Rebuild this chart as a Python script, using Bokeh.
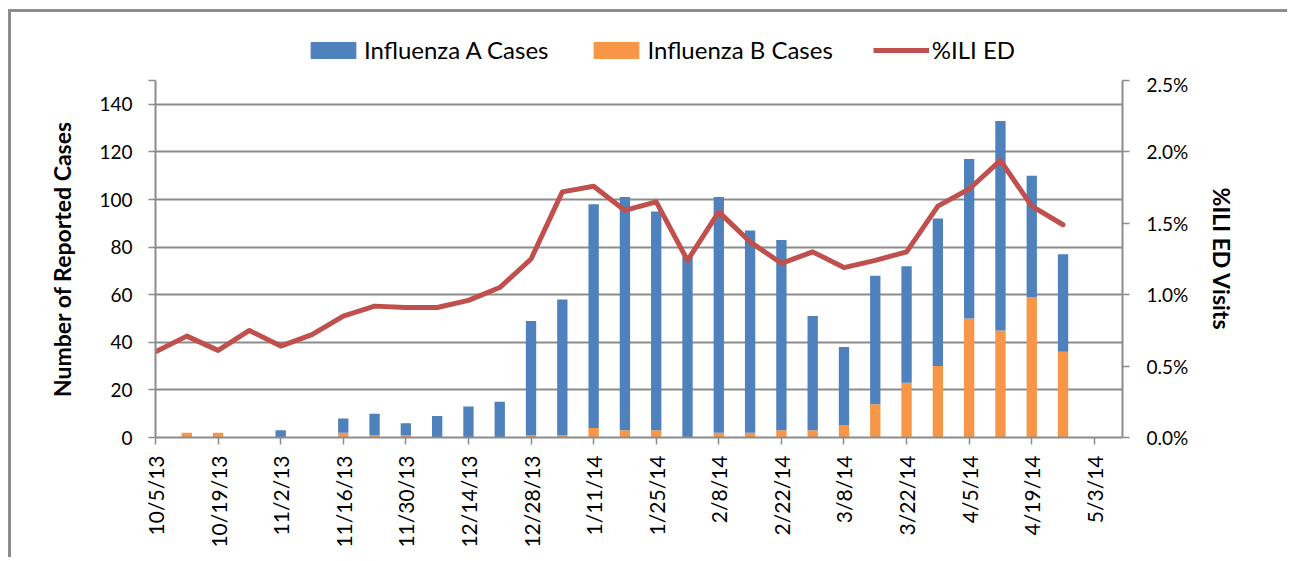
from bokeh.plotting import figure
from bokeh.layouts import column
from bokeh.models import (Range1d, LinearAxis, FixedTicker, PrintfTickFormatter,
                          Legend, LegendItem, ColumnDataSource)
from bokeh.embed import file_html
from bokeh.resources import INLINE
import math

# ---- data ----
week_labels = ["10/5/13", "10/12/13", "10/19/13", "10/26/13", "11/2/13", "11/9/13",
               "11/16/13", "11/23/13", "11/30/13", "12/7/13", "12/14/13", "12/21/13",
               "12/28/13", "1/4/14", "1/11/14", "1/18/14", "1/25/14", "2/1/14",
               "2/8/14", "2/15/14", "2/22/14", "3/1/14", "3/8/14", "3/15/14",
               "3/22/14", "3/29/14", "4/5/14", "4/12/14", "4/19/14", "4/26/14"]
flu_a = [0, 0, 0, 0, 3, 0, 6, 9, 5, 9, 13, 15, 48, 57, 94, 98, 92, 76,
         99, 85, 80, 48, 33, 54, 49, 62, 67, 88, 51, 41]
flu_b = [0, 2, 2, 0, 0, 0, 2, 1, 1, 0, 0, 0, 1, 1, 4, 3, 3, 0,
         2, 2, 3, 3, 5, 14, 23, 30, 50, 45, 59, 36]
ili_pct = [0.60, 0.71, 0.61, 0.75, 0.64, 0.72, 0.85, 0.92, 0.91, 0.91, 0.96, 1.05,
           1.25, 1.72, 1.76, 1.59, 1.65, 1.24, 1.58, 1.37, 1.22, 1.30, 1.19, 1.24,
           1.30, 1.62, 1.74, 1.94, 1.62, 1.49]
tick_labels = ["10/5/13", "10/19/13", "11/2/13", "11/16/13", "11/30/13", "12/14/13",
               "12/28/13", "1/11/14", "1/25/14", "2/8/14", "2/22/14", "3/8/14",
               "3/22/14", "4/5/14", "4/19/14", "5/3/14"]
series_names = ["Influenza A Cases", "Influenza B Cases", "%ILI ED"]
left_ticks = [0, 20, 40, 60, 80, 100, 120, 140]
right_ticks = [0.0, 0.5, 1.0, 1.5, 2.0, 2.5]

BLUE = "#4F81BD"
ORANGE = "#F79646"
RED = "#C0504D"
GRID = "#8C8C8C"
FONT = "Lato"

idx = list(range(len(week_labels)))
src = ColumnDataSource(dict(
    x=idx, a=flu_a, b=flu_b,
    a_top=[a + b for a, b in zip(flu_a, flu_b)],
    ili=ili_pct))

W = 1276

# ---------------- main chart ----------------
p = figure(width=W, height=485, output_backend="svg", toolbar_location=None,
           x_range=Range1d(0, 30.9), y_range=Range1d(0, 150),
           min_border_left=144, min_border_right=W - 1111, min_border_top=8,
           min_border_bottom=120)
p.outline_line_color = None
p.background_fill_color = "white"
p.border_fill_color = "white"

p.extra_y_ranges = {"pct": Range1d(0, 2.5)}

rb = p.vbar(x="x", bottom=0, top="b", width=0.33, source=src,
            fill_color=ORANGE, line_color=None)
ra = p.vbar(x="x", bottom="b", top="a_top", width=0.33, source=src,
            fill_color=BLUE, line_color=None)
rl = p.line(x="x", y="ili", source=src, y_range_name="pct",
            line_color=RED, line_width=5, line_join="round", line_cap="round")

# x axis
xt = [2 * i for i in range(len(tick_labels))]
p.xaxis.ticker = FixedTicker(ticks=xt)
p.xaxis.major_label_overrides = {t: lab for t, lab in zip(xt, tick_labels)}
p.xaxis.major_label_orientation = math.pi / 2
p.xaxis.minor_tick_line_color = None
p.xaxis.major_tick_in = 0
p.xaxis.major_tick_out = 7
p.xaxis.major_label_standoff = 11
p.xaxis.axis_line_color = GRID
p.xaxis.axis_line_width = 2
p.xaxis.major_tick_line_color = GRID
p.xaxis.major_tick_line_width = 1.5
p.xaxis.major_label_text_font = FONT
p.xaxis.major_label_text_font_size = "21px"
p.xaxis.major_label_text_color = "black"

# left axis
p.yaxis.ticker = FixedTicker(ticks=left_ticks + [150])
p.yaxis.major_label_overrides = {150: ""}
p.yaxis.minor_tick_line_color = None
p.yaxis.major_tick_in = 0
p.yaxis.major_tick_out = 7
p.yaxis.major_label_standoff = 16
p.yaxis.axis_line_color = GRID
p.yaxis.axis_line_width = 2
p.yaxis.major_tick_line_color = GRID
p.yaxis.major_tick_line_width = 1.5
p.yaxis.major_label_text_font = FONT
p.yaxis.major_label_text_font_size = "19px"
p.yaxis.major_label_text_color = "black"
p.yaxis.axis_label = "Number of Reported Cases"
p.yaxis.axis_label_text_font = FONT
p.yaxis.axis_label_text_font_style = "bold"
p.yaxis.axis_label_text_font_size = "23px"
p.yaxis.axis_label_text_color = "black"
p.yaxis.axis_label_standoff = 20

# right axis
ra_axis = LinearAxis(y_range_name="pct", ticker=FixedTicker(ticks=right_ticks),
                     formatter=PrintfTickFormatter(format="%.1f%%"))
ra_axis.minor_tick_line_color = None
ra_axis.major_tick_in = 0
ra_axis.major_tick_out = 7
ra_axis.major_label_standoff = 17
ra_axis.axis_line_color = GRID
ra_axis.axis_line_width = 2
ra_axis.major_tick_line_color = GRID
ra_axis.major_tick_line_width = 1.5
ra_axis.major_label_text_font = FONT
ra_axis.major_label_text_font_size = "19px"
ra_axis.major_label_text_color = "black"
ra_axis.axis_label = "%ILI ED Visits"
ra_axis.axis_label_text_font = FONT
ra_axis.axis_label_text_font_style = "bold"
ra_axis.axis_label_text_font_size = "23px"
ra_axis.axis_label_text_color = "black"
ra_axis.axis_label_standoff = 17
p.add_layout(ra_axis, "right")

# grid
p.xgrid.grid_line_color = None
p.ygrid.ticker = FixedTicker(ticks=[20, 40, 60, 80, 100, 120, 140, 150])
p.ygrid.grid_line_color = GRID
p.ygrid.grid_line_width = 2

# ---------------- legend strip ----------------
lg = figure(width=W, height=60, output_backend="svg", toolbar_location=None,
            x_range=Range1d(0, 1), y_range=Range1d(0, 1),
            x_axis_location=None, y_axis_location=None,
            min_border_left=0, min_border_right=0, min_border_top=0,
            min_border_bottom=0)
lg.outline_line_color = None
lg.xgrid.grid_line_color = None
lg.ygrid.grid_line_color = None
# legend-key renderers, placed outside the visible range
la = lg.vbar(x=[-5], top=[-5], bottom=[-6], width=0.1, fill_color=BLUE, line_color=BLUE)
lb = lg.vbar(x=[-5], top=[-5], bottom=[-6], width=0.1, fill_color=ORANGE, line_color=ORANGE)
ll = lg.line(x=[-6, -5], y=[-6, -5], line_color=RED, line_width=5)
legend = Legend(items=[LegendItem(label=series_names[0], renderers=[la]),
                       LegendItem(label=series_names[1], renderers=[lb]),
                       LegendItem(label=series_names[2], renderers=[ll])],
                orientation="horizontal", location=(150, 8),
                glyph_width=56, glyph_height=20, label_standoff=3, spacing=40,
                padding=0, margin=0, border_line_color=None,
                background_fill_alpha=0,
                label_text_font=FONT, label_text_font_size="24px",
                label_text_color="black")
lg.add_layout(legend, "center")

layout = column(lg, p, spacing=0)
layout.styles = {"margin-left": "8px", "margin-top": "9px",
                 "border-top": "3px solid #8C8C8C", "border-left": "3px solid #8C8C8C"}

open("out.html", "w").write(file_html(layout, INLINE))
